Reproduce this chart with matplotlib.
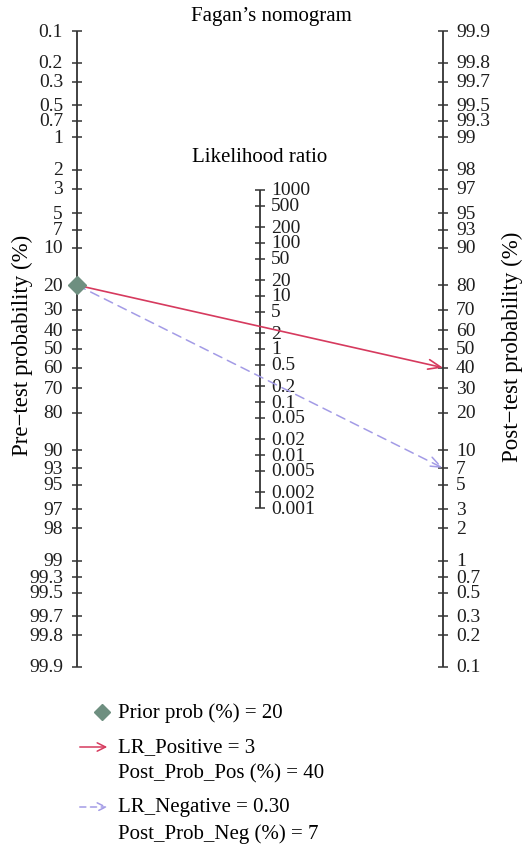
import numpy as np
import matplotlib
matplotlib.use("Agg")
import matplotlib.pyplot as plt

# ---- data ----
prob_ticks = [0.1, 0.2, 0.3, 0.5, 0.7, 1, 2, 3, 5, 7, 10, 20, 30, 40, 50, 60, 70,
              80, 90, 93, 95, 97, 98, 99, 99.3, 99.5, 99.7, 99.8, 99.9]
prob_labels = ["0.1", "0.2", "0.3", "0.5", "0.7", "1", "2", "3", "5", "7", "10", "20",
               "30", "40", "50", "60", "70", "80", "90", "93", "95", "97", "98", "99",
               "99.3", "99.5", "99.7", "99.8", "99.9"]
lr_ticks = [1000, 500, 200, 100, 50, 20, 10, 5, 2, 1, 0.5, 0.2, 0.1, 0.05, 0.02,
            0.01, 0.005, 0.002, 0.001]
lr_labels = ["1000", "500", "200", "100", "50", "20", "10", "5", "2", "1", "0.5",
             "0.2", "0.1", "0.05", "0.02", "0.01", "0.005", "0.002", "0.001"]
prior_prob = 20
lr_positive = 3
lr_negative = 0.30
post_prob_pos = 40
post_prob_neg = 7

plt.rcParams['font.family'] = ['Liberation Serif', 'DejaVu Serif']
FS_TICK = 14
FS_TXT = 15
FS_YLAB = 16.5

def logit(p):
    p = np.asarray(p, dtype=float) / 100.0
    return np.log(p / (1 - p))

def v_left(p):
    return -logit(p)

def v_right(p):
    return logit(p)

def v_mid(lr):
    return np.log(np.asarray(lr, dtype=float)) / 2.0

W, H = 530, 845
fig = plt.figure(figsize=(W / 100, H / 100), dpi=100)
x0, x1 = 77, 443
ytop, ybot = 32, 668
ax = fig.add_axes([x0 / W, (H - ybot) / H, (x1 - x0) / W, (ybot - ytop) / H])
vmax = float(logit(99.9))
ax.set_xlim(0, 1)
ax.set_ylim(-vmax, vmax)
ax.axis('off')

axc = '#333333'
tc = '#1e1e1e'
tl = 5 / (x1 - x0)
# left axis
ax.plot([0, 0], [-vmax, vmax], color=axc, lw=1.3, solid_capstyle='butt', clip_on=False)
vl = v_left(prob_ticks)
ax.hlines(vl, -tl, tl, color=axc, lw=1.1, clip_on=False)
for v, lab in zip(vl, prob_labels):
    ax.annotate(lab, (0, v), xytext=(-14, 0), textcoords='offset pixels',
                ha='right', va='center', fontsize=FS_TICK, color=tc, annotation_clip=False)
# right axis
ax.plot([1, 1], [-vmax, vmax], color=axc, lw=1.3, solid_capstyle='butt', clip_on=False)
vr = v_right(prob_ticks)
ax.hlines(vr, 1 - tl, 1 + tl, color=axc, lw=1.1, clip_on=False)
for v, lab in zip(vr, prob_labels):
    ax.annotate(lab, (1, v), xytext=(13, 0), textcoords='offset pixels',
                ha='left', va='center', fontsize=FS_TICK, color=tc, annotation_clip=False)
# middle axis
vm = v_mid(lr_ticks)
ax.plot([0.5, 0.5], [vm.min(), vm.max()], color=axc, lw=1.3, solid_capstyle='butt')
ax.hlines(vm, 0.5 - tl, 0.5 + tl, color=axc, lw=1.1)
for v, lab in zip(vm, lr_labels):
    ax.annotate(lab, (0.5, v), xytext=(11, 0), textcoords='offset pixels',
                ha='left', va='center', fontsize=FS_TICK, color=tc, annotation_clip=False)

# lines
red = '#d63a5e'
purple = '#a39be6'
ax.annotate('', xy=(1, float(v_right(post_prob_pos))), xytext=(0, float(v_left(prior_prob))),
            arrowprops=dict(arrowstyle='->,head_length=0.9,head_width=0.35', color=red, lw=1.2,
                            shrinkA=0, shrinkB=0), annotation_clip=False)
ax.annotate('', xy=(1, float(v_right(post_prob_neg))), xytext=(0, float(v_left(prior_prob))),
            arrowprops=dict(arrowstyle='->,head_length=0.9,head_width=0.35', color=purple, lw=1.1,
                            linestyle=(0, (6, 4)), shrinkA=0, shrinkB=0), annotation_clip=False)
ax.plot([0], [float(v_left(prior_prob))], marker='D', ms=9, color='#6e8f80', clip_on=False, zorder=5)

# texts
fig.text(271 / W, 1 - 17 / H, "Fagan\u2019s nomogram", ha='center', va='center', fontsize=FS_TXT)
fig.text(260 / W, 1 - 157 / H, "Likelihood ratio", ha='center', va='center', fontsize=FS_TXT)
fig.text(22 / W, 1 - 345 / H, "Pre\u2212test probability (%)", ha='center', va='center',
         rotation=90, fontsize=FS_YLAB)
fig.text(512 / W, 1 - 347 / H, "Post\u2212test probability (%)", ha='center', va='center',
         rotation=90, fontsize=FS_YLAB)

# legend
def fy(py):
    return 1 - py / H

fig.lines.append(plt.Line2D([102 / W], [fy(713)], marker='D', ms=8, color='#6e8f80',
                            transform=fig.transFigure))
fig.text(118 / W, fy(713), f"Prior prob (%) = {prior_prob}", va='center', fontsize=FS_TXT)
fig.patches.append(matplotlib.patches.FancyArrowPatch(
    (77 / W, fy(748)), (110 / W, fy(748)), transform=fig.transFigure,
    arrowstyle='->,head_length=6,head_width=3', color=red, lw=1.1))
fig.text(118 / W, fy(748), f"LR_Positive = {lr_positive}", va='center', fontsize=FS_TXT)
fig.text(118 / W, fy(774), f"Post_Prob_Pos (%) = {post_prob_pos}", va='center', fontsize=FS_TXT)
fig.patches.append(matplotlib.patches.FancyArrowPatch(
    (77 / W, fy(808)), (110 / W, fy(808)), transform=fig.transFigure,
    arrowstyle='->,head_length=6,head_width=3', color=purple, lw=1.1, linestyle=(0, (4, 3))))
fig.text(118 / W, fy(808), f"LR_Negative = {lr_negative:.2f}", va='center', fontsize=FS_TXT)
fig.text(118 / W, fy(834), f"Post_Prob_Neg (%) = {post_prob_neg}", va='center', fontsize=FS_TXT)

fig.savefig("out.png", dpi=100)
